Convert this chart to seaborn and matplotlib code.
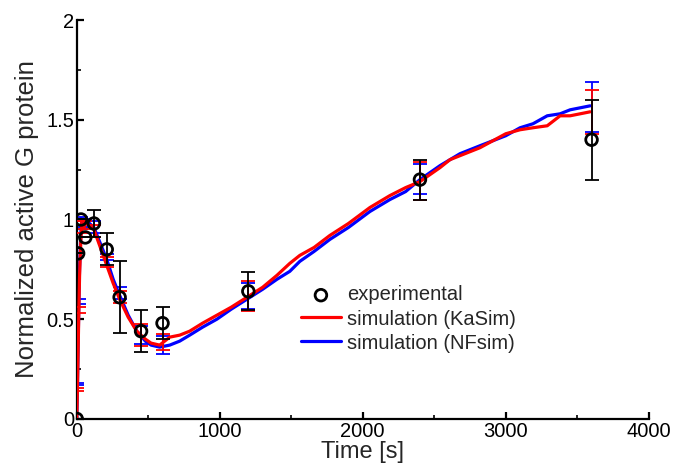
import matplotlib
matplotlib.use("Agg")
import matplotlib.pyplot as plt
import seaborn as sns
import pandas as pd
import numpy as np
from matplotlib.ticker import MultipleLocator

# ---------------- data ----------------
exp_t = [0, 10, 30, 60, 120, 210, 300, 450, 600, 1200, 2400, 3600]
exp_v = [0.0, 0.83, 1.00, 0.91, 0.98, 0.85, 0.61, 0.44, 0.48, 0.64, 1.20, 1.40]
exp_err = [0.0, 0.0, 0.0, 0.0, 0.07, 0.08, 0.18, 0.105, 0.08, 0.095, 0.10, 0.20]

sim_t = [0, 5, 10, 15, 20, 30, 45, 60, 90, 120, 165, 210, 255, 300, 360, 420,
         480, 520, 580, 650, 720, 790, 880, 980, 1080, 1190, 1300, 1400, 1490,
         1560, 1660, 1770, 1900, 2050, 2190, 2300, 2400, 2540, 2610, 2680, 2820,
         3000, 3100, 3190, 3290, 3380, 3450, 3520, 3590]
kasim_v = [0, 0.15, 0.35, 0.55, 0.72, 0.92, 0.98, 0.98, 0.97, 0.95, 0.86, 0.77,
           0.68, 0.60, 0.51, 0.44, 0.40, 0.38, 0.37, 0.41, 0.42, 0.44, 0.48, 0.52,
           0.56, 0.61, 0.66, 0.72, 0.78, 0.82, 0.86, 0.92, 0.98, 1.06, 1.12, 1.16,
           1.19, 1.26, 1.30, 1.32, 1.36, 1.43, 1.45, 1.46, 1.47, 1.52, 1.52, 1.53,
           1.54]
nfsim_v = [0, 0.17, 0.38, 0.59, 0.76, 0.95, 1.00, 0.99, 0.98, 0.96, 0.88, 0.80,
           0.70, 0.62, 0.52, 0.44, 0.39, 0.37, 0.36, 0.37, 0.39, 0.42, 0.46, 0.50,
           0.55, 0.60, 0.65, 0.70, 0.74, 0.79, 0.84, 0.90, 0.96, 1.04, 1.10, 1.14,
           1.20, 1.27, 1.30, 1.33, 1.37, 1.42, 1.46, 1.48, 1.52, 1.53, 1.55, 1.56,
           1.57]

simerr_t = [5, 15, 30, 60, 120, 210, 300, 450, 600, 1200, 2400, 3600]
kasim_m = [0.148, 0.545, 0.96, 0.97, 0.94, 0.785, 0.61, 0.42, 0.385, 0.615, 1.195, 1.54]
kasim_e = [0.008, 0.015, 0.03, 0.02, 0.03, 0.025, 0.03, 0.055, 0.04, 0.075, 0.095, 0.11]
nfsim_m = [0.175, 0.59, 0.98, 0.98, 0.96, 0.81, 0.63, 0.42, 0.37, 0.615, 1.205, 1.565]
nfsim_e = [0.006, 0.012, 0.03, 0.02, 0.03, 0.015, 0.03, 0.045, 0.045, 0.065, 0.075, 0.125]

# ---------------- plot ----------------
sns.set_style("ticks")
plt.rcParams['font.family'] = ['Liberation Sans', 'DejaVu Sans']

fig = plt.figure(figsize=(6.73, 4.67), dpi=100)
ax = fig.add_axes([0.114, 0.103, 0.850, 0.854])

df_nf = pd.DataFrame({"t": sim_t, "v": nfsim_v})
df_ka = pd.DataFrame({"t": sim_t, "v": kasim_v})

sns.lineplot(data=df_nf, x="t", y="v", ax=ax, color="#0000ff", lw=2.3,
             label="simulation (NFsim)", zorder=2)
sns.lineplot(data=df_ka, x="t", y="v", ax=ax, color="#ff0000", lw=2.3,
             label="simulation (KaSim)", zorder=3)

ax.errorbar(simerr_t, nfsim_m, yerr=nfsim_e, fmt="none", ecolor="#0000ff",
            elinewidth=1.3, capsize=5, capthick=1.3, zorder=2)
ax.errorbar(simerr_t, kasim_m, yerr=kasim_e, fmt="none", ecolor="#ff0000",
            elinewidth=1.3, capsize=5, capthick=1.3, zorder=3)
ax.errorbar(exp_t, exp_v, yerr=exp_err, fmt="none", ecolor="black",
            elinewidth=1.3, capsize=5, capthick=1.3, zorder=4)
sns.scatterplot(x=exp_t, y=exp_v, ax=ax, marker="o", s=70, facecolor="none",
                edgecolor="black", linewidth=2, label="experimental", zorder=5)

ax.set_xlim(0, 4000)
ax.set_ylim(0, 2)
ax.xaxis.set_major_locator(MultipleLocator(1000))
ax.xaxis.set_minor_locator(MultipleLocator(500))
ax.yaxis.set_major_locator(MultipleLocator(0.5))
ax.yaxis.set_minor_locator(MultipleLocator(0.25))
ax.set_yticks([0, 0.5, 1, 1.5, 2])
ax.set_yticklabels(["0", "0.5", "1", "1.5", "2"])

for s in ["top", "right"]:
    ax.spines[s].set_visible(False)
for s in ["left", "bottom"]:
    ax.spines[s].set_linewidth(1.6)
    ax.spines[s].set_color("black")
ax.tick_params(which="major", direction="in", length=5, width=1.6,
               labelsize=14.5, colors="black", pad=2)
ax.tick_params(which="minor", direction="in", length=3, width=1.2, colors="black")

ax.set_xlabel("Time [s]", fontsize=17, labelpad=0)
ax.set_ylabel("Normalized active G protein", fontsize=18.5, labelpad=5)

h, l = ax.get_legend_handles_labels()
order = [l.index("experimental"), l.index("simulation (KaSim)"), l.index("simulation (NFsim)")]
ax.legend([h[i] for i in order], [l[i] for i in order], loc="upper left",
          bbox_to_anchor=(0.36, 0.38), frameon=False, fontsize=14.5,
          handlelength=2.0, handletextpad=0.3, labelspacing=0.25)

fig.savefig("out.png", dpi=100)
